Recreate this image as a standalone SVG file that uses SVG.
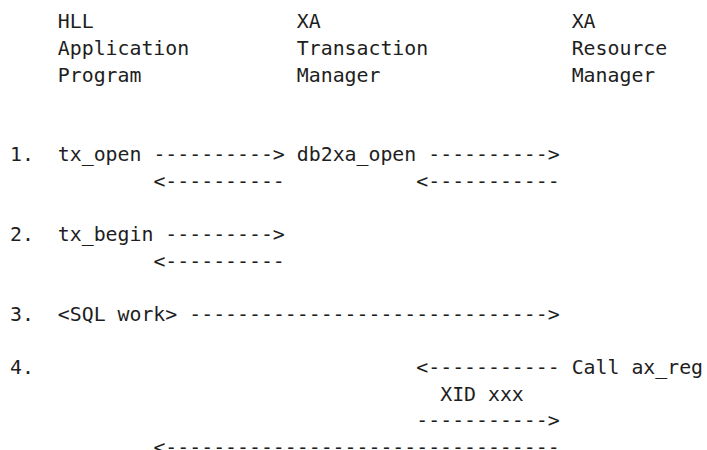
<svg xmlns="http://www.w3.org/2000/svg" width="707" height="450" viewBox="0 0 707 450">
<style>
text{font-family:"DejaVu Sans Mono","Liberation Mono",monospace;font-size:19.85px;fill:#1e1e1e;white-space:pre}
</style>
<rect width="707" height="450" fill="#ffffff"/>
<g id="node-app">
<text x="57.8" y="28.3">HLL</text>
<text x="57.8" y="54.9">Application</text>
<text x="57.8" y="81.5">Program</text>
</g>
<g id="node-tm">
<text x="296.8" y="28.3">XA</text>
<text x="296.8" y="54.9">Transaction</text>
<text x="296.8" y="81.5">Manager</text>
</g>
<g id="node-rm">
<text x="571.65" y="28.3">XA</text>
<text x="571.65" y="54.9">Resource</text>
<text x="571.65" y="81.5">Manager</text>
</g>
<g id="step-1">
<text x="10" y="161.3">1.</text>
<text x="57.8" y="161.3">tx_open</text>
<text x="296.8" y="161.3">db2xa_open</text>
</g>
<g id="step-2">
<text x="10" y="241.1">2.</text>
<text x="57.8" y="241.1">tx_begin</text>
</g>
<g id="step-3">
<text x="10" y="320.9">3.</text>
<text x="57.8" y="320.9">&lt;SQL work&gt;</text>
</g>
<g id="step-4">
<text x="10" y="374.1">4.</text>
<text x="571.65" y="374.1">Call ax_reg</text>
<text x="440.2" y="400.7">XID xxx</text>
</g>
<g id="connectors">
<text x="153.4" y="161.3">----------&gt;</text>
<text x="428.25" y="161.3">----------&gt;</text>
<text x="153.4" y="187.9">&lt;----------</text>
<text x="416.3" y="187.9">&lt;-----------</text>
<text x="165.35" y="241.1">---------&gt;</text>
<text x="153.4" y="267.7">&lt;----------</text>
<text x="189.25" y="320.9">------------------------------&gt;</text>
<text x="416.3" y="374.1">&lt;-----------</text>
<text x="416.3" y="427.3">-----------&gt;</text>
<text x="153.4" y="453.9">&lt;---------------------------------</text>
</g>
</svg>
